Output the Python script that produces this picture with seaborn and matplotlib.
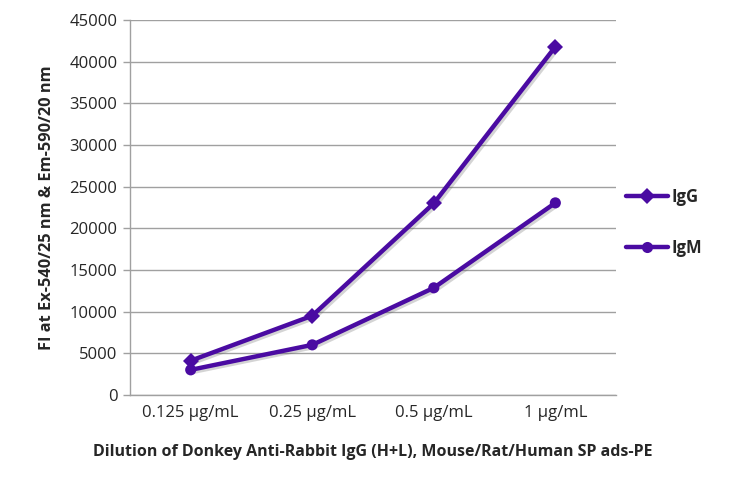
import matplotlib
matplotlib.use("Agg")
import matplotlib.pyplot as plt
import matplotlib.patheffects as pe
from matplotlib.ticker import FixedLocator, MultipleLocator
import seaborn as sns
import pandas as pd

categories = ["0.125 µg/mL", "0.25 µg/mL", "0.5 µg/mL", "1 µg/mL"]
igg = [4100, 9500, 23000, 41800]
igm = [3000, 6000, 12850, 23050]
series_names = ["IgG", "IgM"]

df = pd.DataFrame({
    "dilution": categories * 2,
    "FI": igg + igm,
    "series": [series_names[0]] * 4 + [series_names[1]] * 4,
})

sns.set_theme(style="white")
plt.rcParams["font.family"] = ["Open Sans", "DejaVu Sans"]

fig = plt.figure(figsize=(7.3, 4.78), dpi=100)
ax = fig.add_axes([0.178, 0.174, 0.666, 0.784])

color = "#4a0ba2"
shadow = [pe.SimpleLineShadow(offset=(1.5, -1.5), alpha=0.25, shadow_color="#555555"), pe.Normal()]
sns.lineplot(data=df, x="dilution", y="FI", hue="series", style="series",
             markers={"IgG": "D", "IgM": "o"}, dashes=False,
             palette={"IgG": color, "IgM": color}, linewidth=3.2,
             markersize=8, markeredgewidth=0, ax=ax, sort=False, legend=True)
for ln in ax.get_lines():
    ln.set_path_effects(shadow)

ax.set_xlim(-0.5, 3.5)
ax.set_ylim(0, 45000)
ax.yaxis.set_major_locator(MultipleLocator(5000))
ax.grid(axis="y", color="#a0a0a0", linewidth=1)
ax.set_axisbelow(True)

ax.set_xticks(range(4))
ax.set_xticklabels(categories, fontsize=12)
ax.xaxis.set_minor_locator(FixedLocator([-0.5, 0.5, 1.5, 2.5, 3.5]))
ax.tick_params(axis="x", which="major", length=0, pad=7)
ax.tick_params(axis="x", which="minor", length=5, color="#a0a0a0", width=1)
ax.tick_params(axis="y", length=5, color="#a0a0a0", width=1, labelsize=12, pad=4, left=True)

for s in ["top", "right"]:
    ax.spines[s].set_visible(False)
for s in ["left", "bottom"]:
    ax.spines[s].set_color("#a0a0a0")
    ax.spines[s].set_linewidth(1)

ax.set_xlabel("Dilution of Donkey Anti-Rabbit IgG (H+L), Mouse/Rat/Human SP ads-PE",
              fontsize=11.5, fontweight="bold", labelpad=17)
ax.set_ylabel("FI at Ex-540/25 nm & Em-590/20 nm", fontsize=11.8, fontweight="bold", labelpad=10)

handles, labels = ax.get_legend_handles_labels()
leg = ax.legend(handles, labels, loc="center left", bbox_to_anchor=(0.99, 0.46),
                frameon=False, labelspacing=1.95, handlelength=2.5, handletextpad=0.2,
                prop={"weight": "bold", "size": 12})
for h in leg.legend_handles:
    h.set_path_effects([])

fig.savefig("out.png", dpi=100)
